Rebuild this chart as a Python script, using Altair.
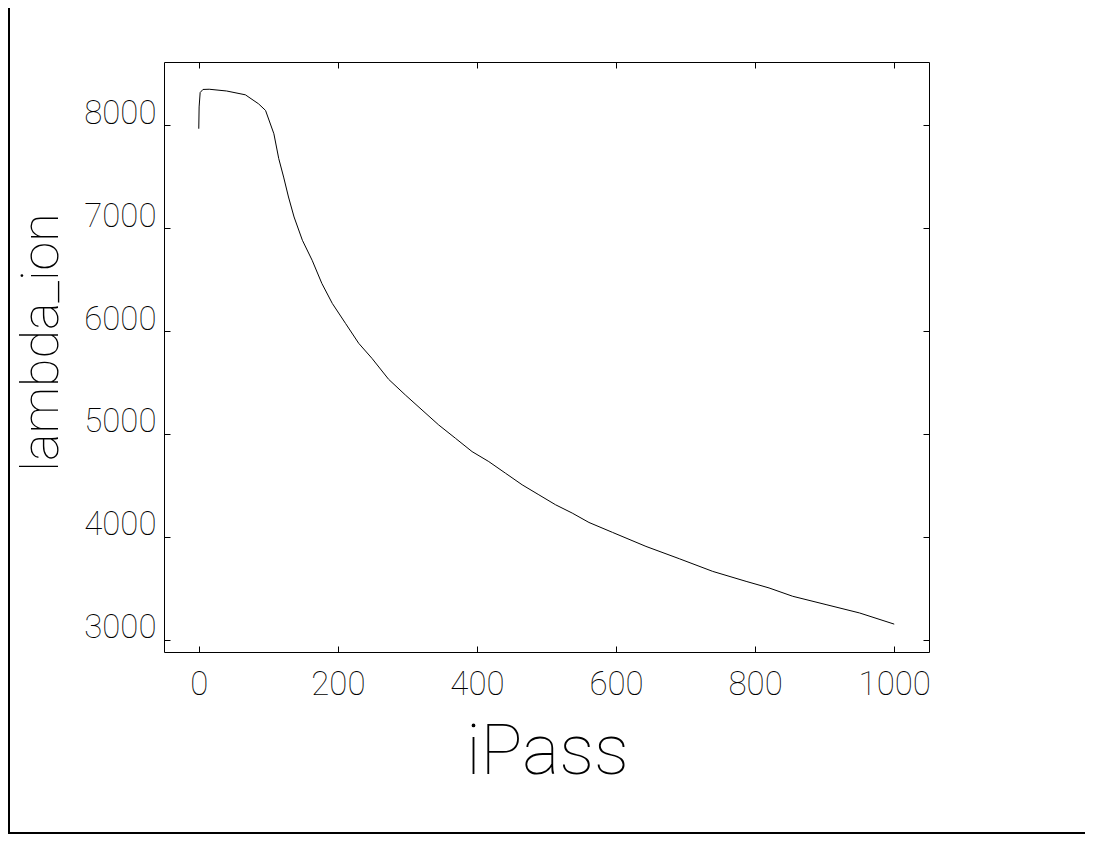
import altair as alt
import pandas as pd

ipass = [0, 0.5, 2, 6, 15, 40, 67, 86, 96, 108, 115, 122, 129, 137, 149, 163, 177,
         192, 211, 230, 249, 273, 297, 321, 345, 369, 393, 417, 441, 465, 489, 513,
         537, 561, 595, 643, 691, 739, 787, 820, 854, 902, 950, 1000]
lambda_ion = [7968, 8180, 8320, 8350, 8352, 8335, 8298, 8210, 8146, 7919, 7677, 7498,
              7304, 7110, 6883, 6689, 6463, 6269, 6075, 5881, 5735, 5531, 5379, 5233,
              5087, 4958, 4828, 4731, 4618, 4505, 4408, 4311, 4230, 4139, 4042, 3906,
              3786, 3663, 3566, 3502, 3421, 3340, 3259, 3150]
x_ticks = [0, 200, 400, 600, 800, 1000]
y_ticks = [3000, 4000, 5000, 6000, 7000, 8000]

df = pd.DataFrame({"iPass": ipass, "lambda_ion": lambda_ion})
FONT = "Roboto Thin, Lato Hairline, Lato Light, Inter Thin, Inter, DejaVu Sans ExtraLight, DejaVu Sans"
W = 100

xscale = alt.Scale(domain=[-50, 1050], nice=False, zero=False)
yscale = alt.Scale(domain=[2879, 8617], nice=False, zero=False)

common = dict(domain=False, grid=False, ticks=True, tickSize=6, offset=-6,
              tickColor="black", tickWidth=1, labelFont=FONT, labelFontSize=33,
              labelFontWeight=W, labelColor="black", titleFont=FONT,
              titleColor="black", titleFontWeight=W)

x_bottom = alt.Axis(orient="bottom", values=x_ticks, format="d", labelPadding=16,
                    labelBaseline="top", title="iPass", titleFontSize=70,
                    titleX=383, titleY=127, titleAlign="center",
                    titleBaseline="alphabetic", labelFlush=False, labelOverlap=False,
                    **common)
y_left = alt.Axis(orient="left", values=y_ticks, format="d", labelPadding=8,
                  labelBaseline="alphabetic", labelOffset=-2, title="lambda_ion",
                  titleFontSize=52, titleX=-113, titleY=280, titleAngle=270,
                  titleAlign="center", titleBaseline="alphabetic",
                  labelFlush=False, labelOverlap=False, **common)
x_top = alt.Axis(orient="top", values=x_ticks, labels=False, title=None, **common)
y_right = alt.Axis(orient="right", values=y_ticks, labels=False, title=None, **common)

line = alt.Chart(df).mark_line(color="black", strokeWidth=1).encode(
    x=alt.X("iPass:Q", scale=xscale, axis=x_bottom),
    y=alt.Y("lambda_ion:Q", scale=yscale, axis=y_left),
)
ghost = alt.Chart(df).mark_line(opacity=0).encode(
    x=alt.X("iPass:Q", scale=xscale, axis=x_top),
    y=alt.Y("lambda_ion:Q", scale=yscale, axis=y_right),
)
one = pd.DataFrame({"k": [0]})
frame_left = alt.Chart(one).mark_rule(color="black", strokeWidth=2).encode(
    x=alt.value(-155), y=alt.value(-54), y2=alt.value(772))
frame_bottom = alt.Chart(one).mark_rule(color="black", strokeWidth=2).encode(
    x=alt.value(-156), x2=alt.value(921), y=alt.value(771))

chart = alt.layer(line, ghost, frame_left, frame_bottom).resolve_axis(
    x="independent", y="independent"
).properties(
    width=765, height=590,
    autosize=alt.AutoSizeParams(type="none"),
    padding={"left": 156, "top": 54, "right": 156, "bottom": 182},
    background="white",
).configure_view(stroke="black", strokeWidth=1)

chart.save("out.html", embed_options={"renderer": "svg", "actions": False})
